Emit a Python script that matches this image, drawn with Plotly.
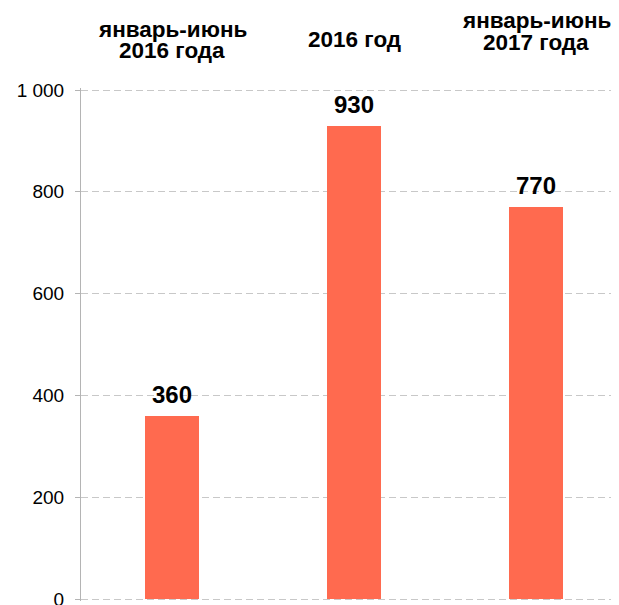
import plotly.graph_objects as go

categories = [["январь-июнь", "2016 года"], ["2016 год"], ["январь-июнь", "2017 года"]]
values = [360, 930, 770]
tick_values = [0, 200, 400, 600, 800, 1000]

# screen-pixel baselines of the category label lines (layout only)
label_baselines = [[37, 58], [47], [28, 50]]

FONT = "Liberation Sans, Arial"
CAT_SIZE = 22.5
# page body has 8px margin -> figure offset by 8px
OFF = 8
W, H = 611, 605
ML, MT, MB = 73, 80, 12
plot_top = OFF + MT
plot_bot = OFF + H - MB


def py(px):
    return (plot_bot - px) / (plot_bot - plot_top)


x = list(range(len(categories)))

fig = go.Figure()
fig.add_trace(go.Bar(
    x=x, y=values, width=0.30,
    marker=dict(color="#FF6A4F", line=dict(width=0)),
    hoverinfo="skip",
))

annotations = []
for i, (lines, v, bls) in enumerate(zip(categories, values, label_baselines)):
    for line, b in zip(lines, bls):
        annotations.append(dict(
            x=i, y=py(b + 0.212 * CAT_SIZE), xref="x", yref="paper",
            text="<b>%s</b>" % line, borderpad=0, borderwidth=0,
            showarrow=False, xanchor="center", yanchor="bottom",
            font=dict(family=FONT, size=CAT_SIZE, color="#000000"),
        ))
    annotations.append(dict(
        x=i, y=v, xref="x", yref="y", text="<b>%d</b>" % v,
        showarrow=False, xanchor="center", yanchor="bottom", yshift=6,
        font=dict(family=FONT, size=24, color="#000000"),
    ))

fig.update_layout(
    width=W, height=H,
    margin=dict(l=ML, r=0, t=MT, b=MB, pad=0),
    paper_bgcolor="white", plot_bgcolor="white",
    separators=", ",
    showlegend=False,
    bargap=0,
    annotations=annotations,
    font=dict(family=FONT, color="#000000"),
)
fig.update_xaxes(
    range=[-0.5, -0.5 + (W - ML) / 182], showticklabels=False, showgrid=False,
    zeroline=False, showline=False, ticks="",
)
fig.update_yaxes(
    range=[-3.93, 1003.93], tickvals=tick_values, tickformat=",d",
    showgrid=True, gridcolor="#C8C8C8", griddash="7px,4px", gridwidth=1,
    zeroline=False, showline=True, linecolor="#B4B4B4", linewidth=1,
    ticks="outside", ticklen=5, tickcolor="#B4B4B4", ticklabelstandoff=7,
    tickfont=dict(family=FONT, size=19, color="#000000"),
)

fig.write_html("out.html")
